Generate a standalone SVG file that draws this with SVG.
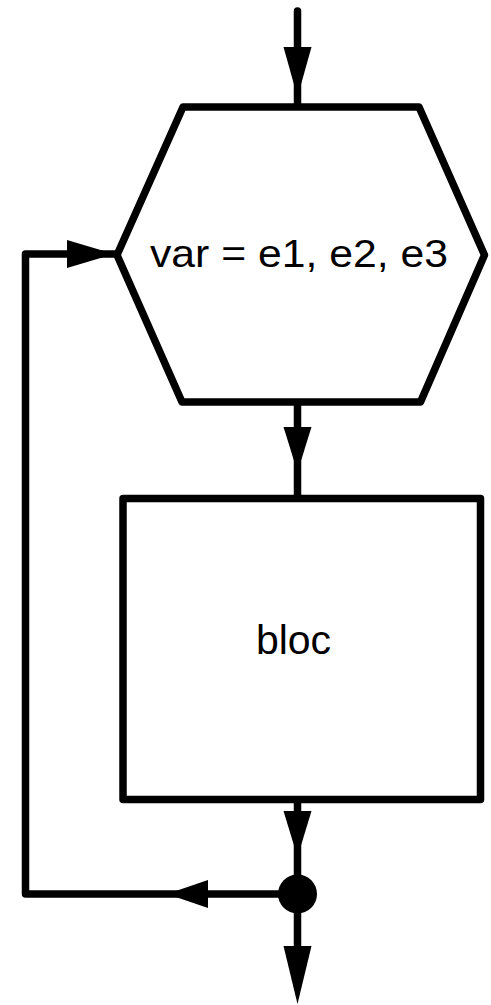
<svg xmlns="http://www.w3.org/2000/svg" width="491" height="1005" viewBox="0 0 491 1005">
  <style>
    .shape { fill: #ffffff; stroke: #000000; stroke-width: 7.5; stroke-linejoin: round; stroke-linecap: round; }
    .wire { fill: none; stroke: #000000; stroke-width: 7.5; stroke-linejoin: round; stroke-linecap: round; }
    .head { fill: #000000; stroke: none; }
    .label { font-family: "Liberation Sans", Arial, sans-serif; fill: #000000; text-anchor: middle; }
  </style>
  <rect x="0" y="0" width="491" height="1005" fill="#ffffff"/>
  <g id="connectors">
    <line class="wire" x1="297.5" y1="11" x2="297.5" y2="107"/>
    <line class="wire" x1="297.5" y1="402" x2="297.5" y2="498.5"/>
    <line class="wire" x1="297.5" y1="799.5" x2="297.5" y2="894"/>
    <line class="wire" x1="297.5" y1="894" x2="297.5" y2="975"/>
    <path class="wire" d="M297.5,894 L25.5,894 L25.5,254 L117,254"/>
    <polygon class="head" points="283.5,47 311.5,47 297.5,97"/>
    <polygon class="head" points="283.5,427 311.5,427 297.5,472"/>
    <polygon class="head" points="283.5,811 311.5,811 297.5,857"/>
    <polygon class="head" points="283.5,946 311.5,946 297.5,1004"/>
    <polygon class="head" points="67,240 67,268 114,254"/>
    <polygon class="head" points="208,880 208,908 167,894"/>
  </g>
  <g id="node-loop">
    <polygon class="shape" points="183,107 419,107 484.5,255 420.5,402 182,402 117,255"/>
    <text class="label" x="299" y="267" font-size="39" textLength="298" lengthAdjust="spacingAndGlyphs">var = e1, e2, e3</text>
  </g>
  <g id="node-bloc">
    <rect class="shape" x="123" y="498.5" width="357.5" height="301"/>
    <text class="label" x="293.5" y="654" font-size="41">bloc</text>
  </g>
  <g id="node-junction">
    <circle cx="297.5" cy="894" r="19.5" fill="#000000"/>
  </g>
</svg>
